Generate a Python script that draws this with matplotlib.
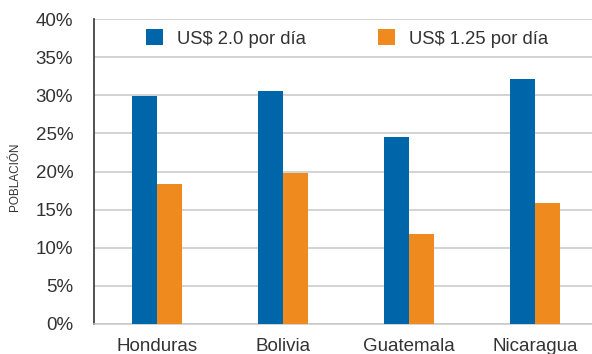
import numpy as np
import matplotlib.pyplot as plt

plt.rcParams['font.family'] = ['Liberation Sans', 'DejaVu Sans']

# Porcentaje de la población bajo cada línea de pobreza
paises = ['Honduras', 'Bolivia', 'Guatemala', 'Nicaragua']
us2 = [29.9, 30.6, 24.5, 32.1]      # US$ 2.0 por día
us125 = [18.4, 19.8, 11.8, 15.9]    # US$ 1.25 por día
yticks = [0, 5, 10, 15, 20, 25, 30, 35, 40]

azul = '#0066aa'
naranja = '#ee8a1e'
texto = '#333333'

fig = plt.figure(figsize=(5.92, 3.54), dpi=100)
ax = fig.add_axes([94 / 592, 30 / 354, 504 / 592, 305 / 354])

x = np.arange(len(paises))
ancho = 0.2
ax.bar(x - ancho / 2, us2, ancho, color=azul, label='US$ 2.0 por día', zorder=3)
ax.bar(x + ancho / 2, us125, ancho, color=naranja, label='US$ 1.25 por día', zorder=3)

ax.set_xlim(-0.5, len(paises) - 0.5)
ax.set_ylim(0, 40)
ax.set_yticks(yticks)
ax.set_yticklabels([f'{v}%' for v in yticks])
ax.set_xticks(x)
ax.set_xticklabels(paises)

ax.yaxis.grid(True, color='#c8c8c8', linewidth=1.1, zorder=0)
ax.set_axisbelow(True)
ax.tick_params(length=0, labelsize=13.5, labelcolor=texto)
ax.tick_params(axis='y', pad=15)
ax.tick_params(axis='x', pad=10)

for lado in ['top', 'right']:
    ax.spines[lado].set_visible(False)
ax.spines['bottom'].set_color('#c8c8c8')
ax.spines['bottom'].set_linewidth(1.1)
ax.spines['left'].set_color(texto)
ax.spines['left'].set_linewidth(1.2)

fig.text(15 / 592, 1 - 177 / 354, 'POBLACIÓN', rotation=90, ha='center',
         va='center', fontsize=8.5, color=texto)

ax.legend(loc='center', bbox_to_anchor=(0.502, 0.936), ncol=2, frameon=False,
          fontsize=13.3, handlelength=0.95, handleheight=0.95,
          handletextpad=0.75, columnspacing=3.9, labelcolor=texto)

fig.savefig('out.png', dpi=100)
